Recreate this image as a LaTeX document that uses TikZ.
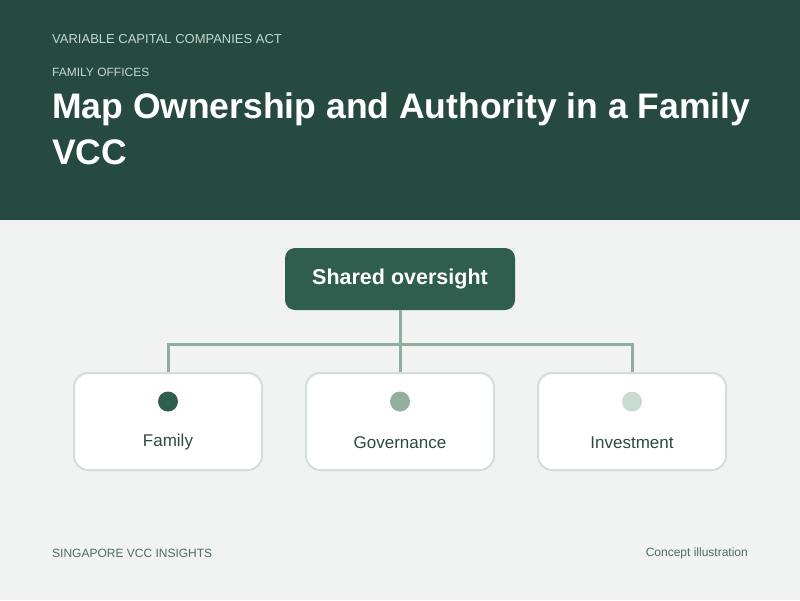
\documentclass[tikz,border=0pt]{standalone}
\usepackage{fontspec}
\setmainfont{Liberation Sans}
\usetikzlibrary{positioning}
\definecolor{headbg}{HTML}{264A40}
\definecolor{pagebg}{HTML}{F1F3F2}
\definecolor{topfill}{HTML}{2F5E4E}
\definecolor{linkcol}{HTML}{8FAE9F}
\definecolor{cardline}{HTML}{D3DED8}
\definecolor{dotmid}{HTML}{93B09F}
\definecolor{dotlight}{HTML}{CADBD1}
\definecolor{labcol}{HTML}{2E4A40}
\definecolor{kicker}{HTML}{C3D8CE}
\definecolor{footcol}{HTML}{4F6B60}

\begin{document}
\begin{tikzpicture}[x=1pt,y=-1pt,
            card/.style={rectangle,draw=cardline,line width=2pt,fill=white,rounded corners=14pt,minimum width=188pt,minimum height=97pt},
            dot/.style={circle,inner sep=0pt,minimum size=20pt},
            link/.style={draw=linkcol,line width=3pt},
            lab/.style={font=\fontsize{17}{20}\selectfont,text=labcol}]

            % page and header band
            \fill[pagebg] (0,0) rectangle (800,600);
            \fill[headbg] (0,0) rectangle (800,220);
            \useasboundingbox (0,0) rectangle (800,600);

            \node[anchor=west,inner sep=0pt,text=kicker,font=\fontsize{13}{15}\selectfont] (act) at (52,39) {VARIABLE CAPITAL COMPANIES ACT};
            \node[anchor=west,inner sep=0pt,text=kicker,font=\fontsize{12}{14}\selectfont] (topic) at (52,72.5) {FAMILY OFFICES};
            % base anchor sits on the last line
            \node[anchor=base west,inner sep=0pt,text=white,align=left,font=\fontsize{35.5}{46}\bfseries] (title) at (52,164) {Map Ownership and Authority in a Family\\VCC};

            % top node
            \node[rectangle,fill=topfill,rounded corners=10pt,minimum width=230pt,minimum height=62pt,text=white,font=\fontsize{21.5}{25}\bfseries] (shared) at (400,279) {Shared oversight};

            % cards
            \node[card] (family) at (168,421.5) {};
            \node[card,right=42pt of family] (gov) {};
            \node[card,right=42pt of gov] (invest) {};

            \node[dot,fill=topfill] (dfam) at ([yshift=-29.5pt]family.north) {};
            \node[dot,fill=dotmid] (dgov) at ([yshift=-29.5pt]gov.north) {};
            \node[dot,fill=dotlight] (dinv) at ([yshift=-29.5pt]invest.north) {};

            \node[lab] (lfam) at ([yshift=-21pt]family.center) {Family};
            \node[lab] (lgov) at ([yshift=-21pt]gov.center) {Governance};
            \node[lab] (linv) at ([yshift=-21pt]invest.center) {Investment};

            % connectors
            \coordinate (bus) at (400,344);
            \draw[link] (shared.south) -- (gov.north);
            \draw[link] (family.north) -- (family.north |- bus) -- (invest.north |- bus) -- (invest.north);

            % footer
            \node[anchor=west,inner sep=0pt,text=footcol,font=\fontsize{12}{14}\selectfont] (brand) at (52,553) {SINGAPORE VCC INSIGHTS};
            \node[anchor=east,inner sep=0pt,text=footcol,font=\fontsize{12}{14}\selectfont] (note) at (748,553) {Concept illustration};
         \end{tikzpicture}
\end{document}
